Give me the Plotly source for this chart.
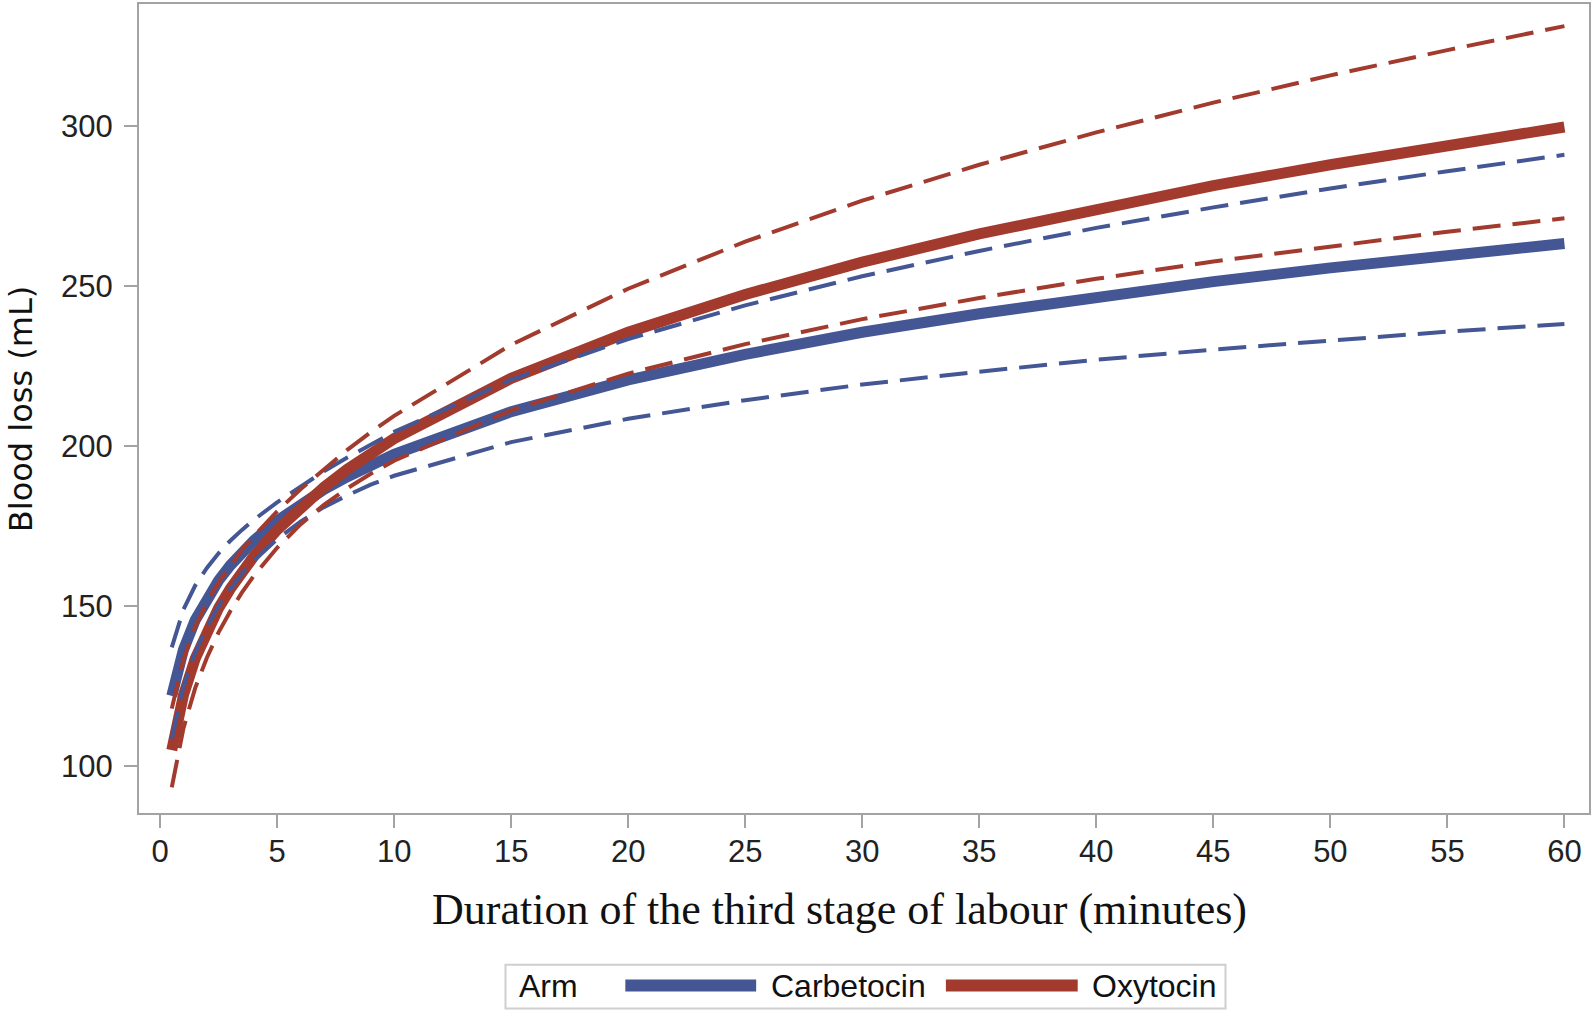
import plotly.graph_objects as go

# ---- data ----
duration = [0.5, 1, 1.5, 2, 2.5, 3, 3.5, 4, 5, 6, 7, 8, 9, 10, 15, 20, 25, 30, 35, 40, 45, 50, 55, 60]
carb_mean = [122.0, 136.4, 145.6, 152.4, 158.0, 162.7, 166.8, 170.4, 176.6, 181.8, 186.4, 190.4, 194.1,
             197.4, 210.7, 220.6, 228.6, 235.5, 241.3, 246.6, 251.3, 255.6, 259.5, 263.2]
carb_lo = [108.6, 124.9, 135.5, 143.5, 150.0, 155.4, 160.1, 164.1, 170.9, 176.4, 180.9, 184.6, 187.9,
           190.7, 201.2, 208.5, 214.3, 219.2, 223.2, 226.9, 230.1, 233.0, 235.7, 238.1]
carb_hi = [137.1, 148.9, 156.4, 161.9, 166.5, 170.4, 173.8, 176.9, 182.4, 187.4, 192.1, 196.4, 200.5,
           204.4, 220.7, 233.4, 243.9, 253.0, 260.9, 268.1, 274.5, 280.4, 285.8, 290.9]
oxy_mean = [105.0, 122.2, 133.6, 142.2, 149.4, 155.4, 160.8, 165.5, 173.8, 180.9, 187.1, 192.7, 197.7,
            202.3, 221.1, 235.5, 247.3, 257.4, 266.2, 274.1, 281.3, 287.8, 293.9, 299.6]
oxy_lo = [93.4, 111.9, 124.4, 133.9, 141.8, 148.4, 154.3, 159.4, 168.2, 175.5, 181.6, 186.8, 191.3,
          195.4, 211.1, 222.6, 231.8, 239.6, 246.2, 252.2, 257.6, 262.4, 266.9, 271.1]
oxy_hi = [118.0, 133.4, 143.5, 151.1, 157.4, 162.7, 167.6, 171.8, 179.6, 186.5, 192.8, 198.8, 204.3,
          209.4, 231.6, 249.1, 263.8, 276.6, 287.8, 297.9, 307.2, 315.7, 323.6, 331.1]

x_ticks = [0, 5, 10, 15, 20, 25, 30, 35, 40, 45, 50, 55, 60]
y_ticks = [100, 150, 200, 250, 300]
arms = ["Carbetocin", "Oxytocin"]

BLUE = "#445694"
RED = "#A23A2E"
GRID = "#A3A3A3"

W, H = 1593, 1012
L, R, T, B = 139, 2, 2, 199
PW, PH = W - L - R, H - T - B


def px(x):
    return (x - L) / PW


def py(y):
    return (H - B - y) / PH


fig = go.Figure()

solid_w = 11
dash_w = 4
dash = "28px,12px"

fig.add_trace(go.Scatter(x=duration, y=carb_mean, mode="lines", name=arms[0],
                         line=dict(color=BLUE, width=solid_w), showlegend=False))
fig.add_trace(go.Scatter(x=duration, y=oxy_mean, mode="lines", name=arms[1],
                         line=dict(color=RED, width=solid_w), showlegend=False))
fig.add_trace(go.Scatter(x=duration, y=carb_hi, mode="lines",
                         line=dict(color=BLUE, width=dash_w, dash=dash), showlegend=False))
fig.add_trace(go.Scatter(x=duration, y=carb_lo, mode="lines",
                         line=dict(color=BLUE, width=dash_w, dash=dash), showlegend=False))
fig.add_trace(go.Scatter(x=duration, y=oxy_hi, mode="lines",
                         line=dict(color=RED, width=dash_w, dash=dash), showlegend=False))
fig.add_trace(go.Scatter(x=duration, y=oxy_lo, mode="lines",
                         line=dict(color=RED, width=dash_w, dash=dash), showlegend=False))

tickfont = dict(family="Liberation Sans, Arial, sans-serif", size=31, color="#222222")

fig.update_xaxes(range=[-0.9, 61.05], tickvals=x_ticks, ticktext=[str(v) for v in x_ticks],
                 showgrid=False, zeroline=False, showline=True, linecolor=GRID, linewidth=2,
                 mirror=True, ticks="outside", ticklen=13, tickwidth=2, tickcolor=GRID,
                 tickfont=tickfont, ticklabelstandoff=-3)
fig.update_yaxes(range=[85.4, 338.0], tickvals=y_ticks, ticktext=[str(v) for v in y_ticks],
                 showgrid=False, zeroline=False, showline=True, linecolor=GRID, linewidth=2,
                 mirror=True, ticks="outside", ticklen=13, tickwidth=2, tickcolor=GRID,
                 tickfont=tickfont, ticklabelstandoff=5)

annotations = [
    dict(text="Duration of the third stage of labour (minutes)", x=px(840), y=py(910),
         xref="paper", yref="paper", xanchor="center", yanchor="middle", showarrow=False,
         font=dict(family="Liberation Serif, Times New Roman, serif", size=44, color="#111111")),
    dict(text="Blood loss (mL)", x=px(21), y=py(408), xref="paper", yref="paper",
         xanchor="center", yanchor="middle", textangle=-90, showarrow=False,
         font=dict(family="DejaVu Sans, Verdana, sans-serif", size=32, color="#111111")),
]

legfont = dict(family="Liberation Sans, Arial, sans-serif", size=32, color="#111111")
leg_y = 986
annotations += [
    dict(text="Arm", x=px(518), y=py(leg_y), xref="paper", yref="paper", xanchor="left",
         yanchor="middle", showarrow=False, font=legfont),
    dict(text=arms[0], x=px(770), y=py(leg_y), xref="paper", yref="paper", xanchor="left",
         yanchor="middle", showarrow=False, font=legfont),
    dict(text=arms[1], x=px(1091), y=py(leg_y), xref="paper", yref="paper", xanchor="left",
         yanchor="middle", showarrow=False, font=legfont),
]

shapes = [
    dict(type="rect", xref="paper", yref="paper", x0=px(506), x1=px(1227), y0=py(965), y1=py(1009),
         line=dict(color="#CFCFCF", width=2), fillcolor="rgba(0,0,0,0)"),
    dict(type="line", xref="paper", yref="paper", x0=px(626), x1=px(757), y0=py(leg_y), y1=py(leg_y),
         line=dict(color=BLUE, width=12)),
    dict(type="line", xref="paper", yref="paper", x0=px(947), x1=px(1079), y0=py(leg_y), y1=py(leg_y),
         line=dict(color=RED, width=12)),
]

fig.update_layout(width=W, height=H, margin=dict(l=L, r=R, t=T, b=B),
                  plot_bgcolor="white", paper_bgcolor="white",
                  annotations=annotations, shapes=shapes, showlegend=False)

fig.write_html("out.html", config={"displayModeBar": False},
               post_script="document.body.style.margin='0px';")
